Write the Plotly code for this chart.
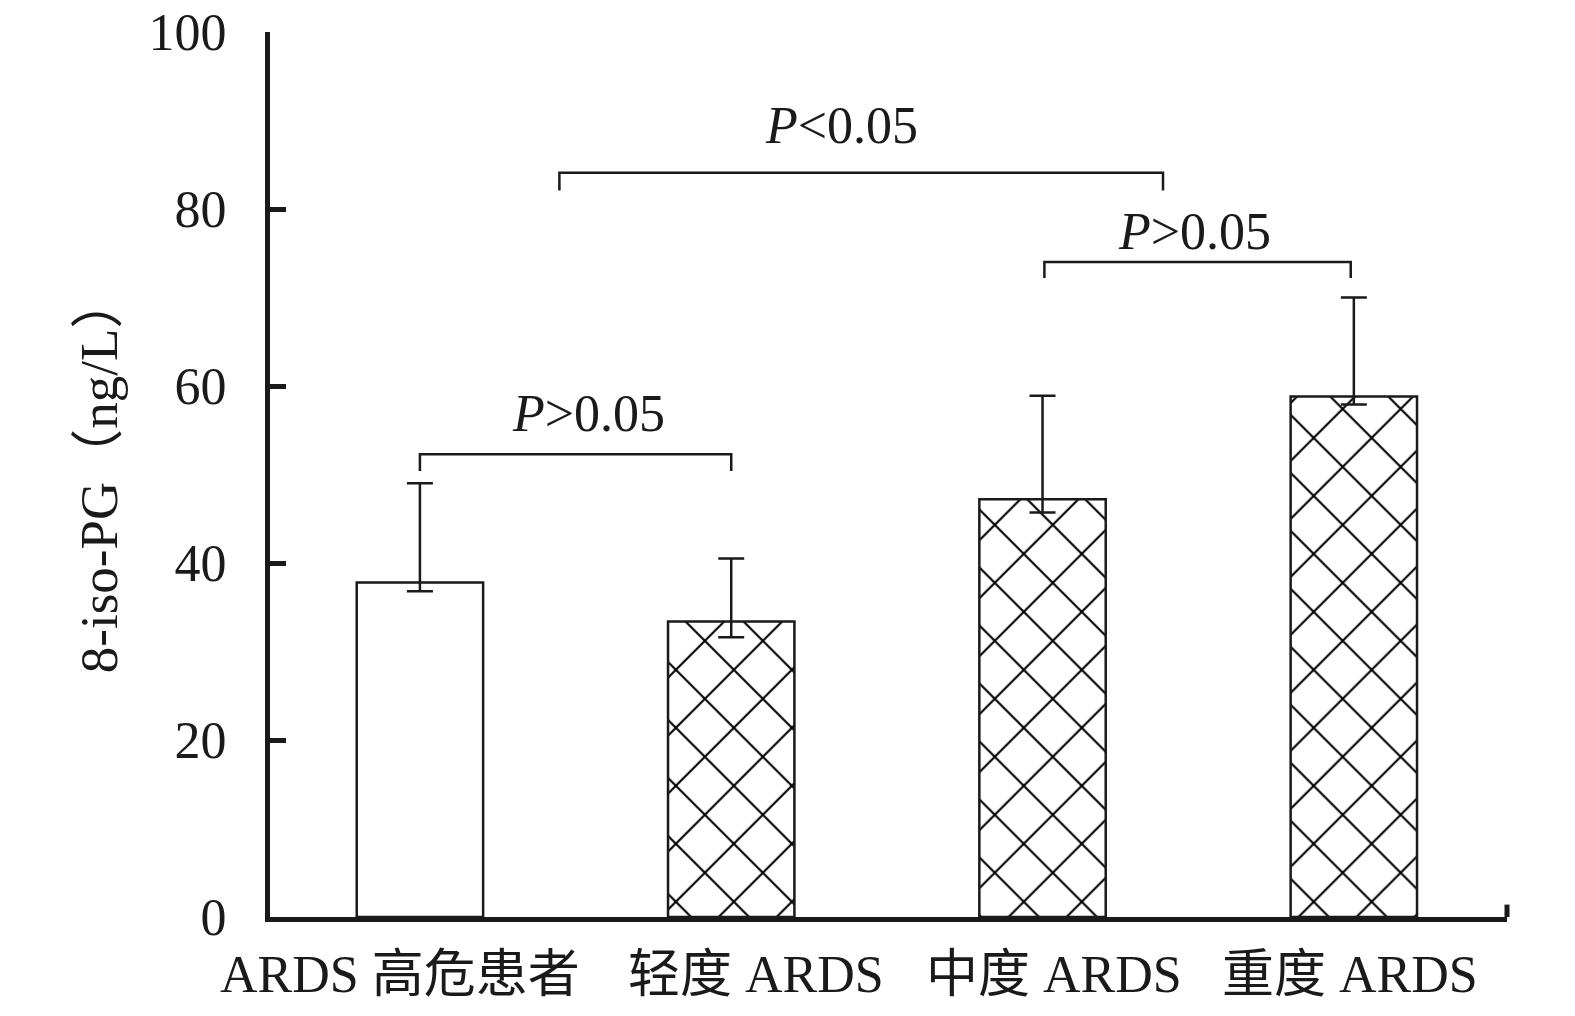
import plotly.graph_objects as go

# ---- data ----
categories = ["ARDS 高危患者", "轻度 ARDS", "中度 ARDS", "重度 ARDS"]
means = [37.8, 33.4, 47.2, 58.8]
err_plus = [11.2, 7.1, 11.7, 11.2]
err_minus = [1.0, 1.8, 1.5, 0.9]
hatch = ["", "x", "x", "x"]
y_ticks = [0, 20, 40, 60, 80, 100]

# significance brackets (category-index coordinates)
brk_x0 = [0.0, 0.448, 2.006]
brk_x1 = [1.0, 2.387, 2.99]
brk_y = [52.3, 84.1, 74.0]
brk_drop = [1.9, 2.0, 1.8]
brk_text = ["<i>P</i>&gt;0.05", "<i>P</i>&lt;0.05", "<i>P</i>&gt;0.05"]
brk_text_x = [0.54, 1.355, 2.487]
brk_text_y = [56.9, 89.4, 77.5]

FONT = "Liberation Serif, Times New Roman, Noto Sans CJK SC, serif"
INK = "#1a1a1a"
LABEL_SHIFT = [-20, 25, 11, -4]  # px nudges of category labels, as in the original

xs = list(range(len(categories)))

fig = go.Figure()
fig.add_trace(go.Bar(
    x=xs,
    y=means,
    width=0.406,
    marker=dict(
        color="white",
        line=dict(color=INK, width=2.5),
        pattern=dict(shape=hatch, fgcolor="black", bgcolor="white", fgopacity=1,
                     size=41, solidity=0.1, fillmode="replace"),
    ),
    error_y=dict(type="data", symmetric=False, array=err_plus, arrayminus=err_minus,
                 color=INK, thickness=2.5, width=13),
    showlegend=False,
))

shapes = []
for x0, x1, y, d in zip(brk_x0, brk_x1, brk_y, brk_drop):
    shapes.append(dict(type="path", xref="x", yref="y",
                       path=f"M {x0} {y-d} L {x0} {y} L {x1} {y} L {x1} {y-d}",
                       line=dict(color=INK, width=2.5)))
# tick at the right end of the x axis
shapes.append(dict(type="line", xref="paper", yref="y", x0=1, x1=1, y0=-0.6, y1=1.4,
                   line=dict(color=INK, width=5)))

annotations = []
for t, x, y in zip(brk_text, brk_text_x, brk_text_y):
    annotations.append(dict(text=t, x=x, y=y, xref="x", yref="y", showarrow=False,
                            xanchor="center", yanchor="middle",
                            font=dict(family=FONT, size=52, color=INK)))
# category labels under the axis
for cat, x, dx in zip(categories, xs, LABEL_SHIFT):
    annotations.append(dict(text=cat, x=x, y=0, xref="x", yref="paper", showarrow=False,
                            xanchor="center", yanchor="top", xshift=dx, yshift=-27,
                            font=dict(family=FONT, size=52, color=INK)))

fig.update_layout(
    width=1575, height=1016,
    margin=dict(l=270, r=68, t=32, b=99),
    paper_bgcolor="white", plot_bgcolor="white",
    font=dict(family=FONT, size=52, color=INK),
    shapes=shapes, annotations=annotations,
)
fig.update_xaxes(
    range=[-0.4816, 3.492], automargin=False,
    tickmode="array", tickvals=xs, showticklabels=False,
    showline=True, linecolor=INK, linewidth=5,
    ticks="", showgrid=False, zeroline=False,
)
fig.update_yaxes(
    range=[0, 100], automargin=False, tickmode="array", tickvals=y_ticks,
    showline=True, linecolor=INK, linewidth=5,
    ticks="inside", ticklen=16, tickwidth=5, tickcolor=INK,
    showgrid=False, zeroline=False,
    tickfont=dict(family=FONT, size=52),
    ticklabelstandoff=28,
    title=dict(text="8-iso-PG（ng/L）", font=dict(family=FONT, size=53), standoff=16),
)

fig.write_html("out.html", config={"displayModeBar": False},
               post_script="document.body.style.margin='0';")
